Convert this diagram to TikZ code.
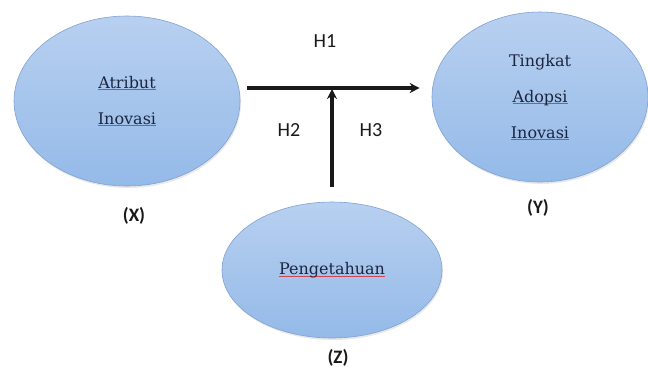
\documentclass[tikz,border=0pt]{standalone}
\usepackage{fontspec}
\setmainfont{DejaVu Serif}
\newfontfamily\labelfont{Carlito}
\usepackage{tikz}
\usetikzlibrary{shapes.geometric, arrows.meta, positioning, shadows}
\definecolor{ovaltop}{RGB}{184, 208, 240}
\definecolor{ovalbottom}{RGB}{148, 186, 232}
\definecolor{ovalline}{RGB}{128, 162, 210}
\definecolor{inktext}{RGB}{28, 38, 64}
\definecolor{spellred}{RGB}{205, 70, 80}
\definecolor{labelgray}{RGB}{25, 25, 25}
% spell-check style underline under a word
\newcommand{\spellmark}[1]{\setbox0\hbox{#1}\rlap{\textcolor{spellred}{\rule[-2pt]{\wd0}{0.8pt}}}\box0}

\begin{document}
\begin{tikzpicture}[x=1pt, y=-1pt,
  varnode/.style={ellipse, draw=ovalline, line width=0.6pt, top color=ovaltop, bottom color=ovalbottom,
    drop shadow={opacity=0.18, shadow xshift=1pt, shadow yshift=-2pt},
    inner sep=0pt, align=center, text=inktext, font=\fontsize{16}{36}\selectfont},
  hyplabel/.style={font=\labelfont\fontsize{20}{22}\selectfont, text=labelgray},
  varlabel/.style={font=\labelfont\bfseries\fontsize{19}{22}\selectfont, text=labelgray},
  link/.style={-{Stealth[length=10pt, width=10pt]}, line width=3.2pt, black!90}]
  \useasboundingbox (0,0) rectangle (648,376);

  % Variables
  \node[varnode, minimum width=226pt, minimum height=170pt] (atribut) at (127, 101)
    {\spellmark{Atribut}\\\spellmark{Inovasi}};
  \node[varnode, minimum width=216pt, minimum height=170pt] (adopsi) at (540, 97)
    {Tingkat\\\spellmark{Adopsi}\\\spellmark{Inovasi}};
  \node[varnode, minimum width=220pt, minimum height=136pt] (tahu) at (332, 270)
    {\spellmark{Pengetahuan}};

  % Variable tags
  \node[varlabel] (tagx) at (134, 216) {(X)};
  \node[varlabel] (tagy) at (538, 208) {(Y)};
  \node[varlabel] (tagz) at (338, 358) {(Z)};

  % Hypotheses
  \draw[link, shorten <=7pt, shorten >=12pt] (atribut.east |- 0,88) coordinate (hstart) -- (adopsi.west |- 0,88) coordinate (hend);
  \coordinate (meet) at (tahu.north |- hstart);
  \draw[link, shorten <=15pt, shorten >=1pt] (tahu.north) -- (meet);

  \node[hyplabel] (h1) at (325, 41) {H1};
  \node[hyplabel] (h2) at (289, 130) {H2};
  \node[hyplabel] (h3) at (371, 130) {H3};
\end{tikzpicture}
\end{document}
